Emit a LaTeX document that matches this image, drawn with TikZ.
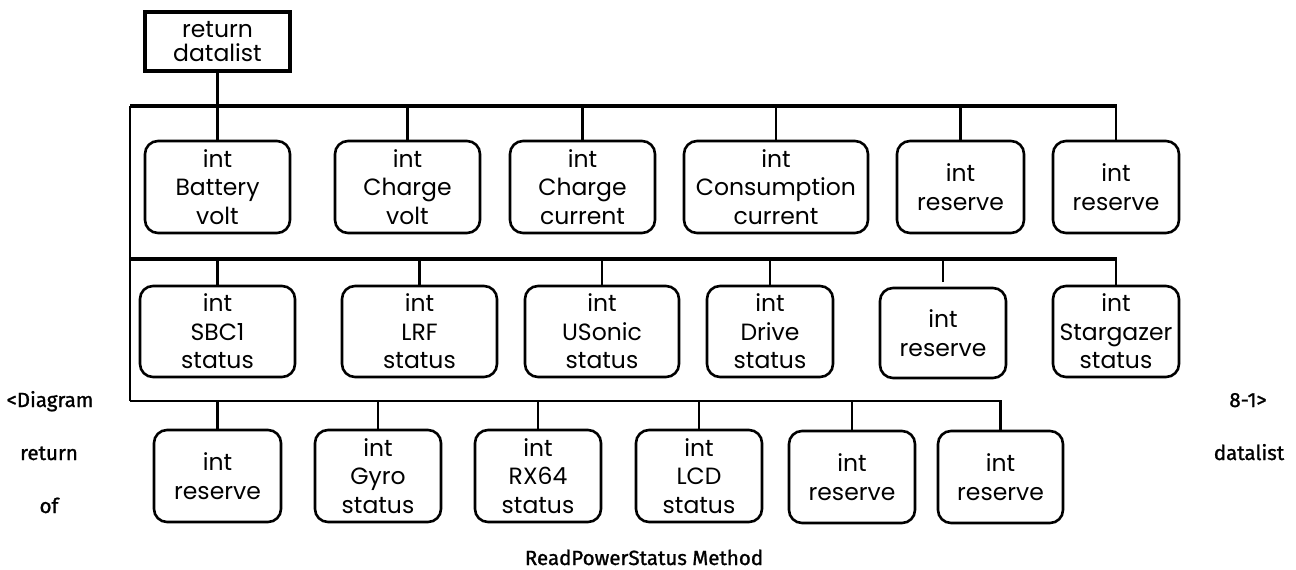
\documentclass[tikz,border=0pt]{standalone}
\usepackage{fontspec}
\newfontfamily\boxfont{Poppins}
\newfontfamily\notefont[FakeBold=1.2]{Fira Sans}
\begin{document}
\begin{tikzpicture}[x=1pt,y=-1pt,
  field/.style={draw, rounded corners=13pt, line width=2.6pt, fill=white,
    align=center, inner sep=0pt, font=\boxfont\fontsize{23.5}{28.5}\selectfont},
  rootbox/.style={draw, line width=4pt, fill=white, align=center, inner sep=0pt,
    minimum width=145pt, minimum height=59pt, font=\boxfont\fontsize{23.5}{27}\selectfont},
  bus/.style={line width=3.2pt},
  thinbus/.style={line width=2.2pt},
  link/.style={line width=2.2pt},
  note/.style={font=\notefont\fontsize{20.5}{24}\selectfont, anchor=base, inner sep=0pt}]
\useasboundingbox (0,0) rectangle (1296,570);

% bus ends
\coordinate (b1L) at (130,106);
\coordinate (b1R) at (1117,106);
\coordinate (b2L) at (130,259);
\coordinate (b2R) at (1117,259);
\coordinate (b3L) at (130,401);
\coordinate (b3R) at (1002,401);

% root
\node[rootbox] (root) at (217.5,41.5) {return\\[-3pt]datalist};

% row 1
\node[field, minimum width=145pt, minimum height=92pt] (bat)  at (217.5,187) {int\\Battery\\volt};
\node[field, minimum width=145pt, minimum height=92pt] (cv)   at (407.5,187) {int\\Charge\\volt};
\node[field, minimum width=145pt, minimum height=92pt] (cc)   at (582.5,187) {int\\Charge\\current};
\node[field, minimum width=184pt, minimum height=92pt] (cons) at (776,187)   {int\\Consumption\\current};
\node[field, minimum width=127pt, minimum height=92pt] (r1a)  at (960.5,187) {int\\reserve};
\node[field, minimum width=126pt, minimum height=92pt] (r1b)  at (1116,187)  {int\\reserve};

% row 2
\node[field, minimum width=155pt, minimum height=91pt] (sbc)   at (217.5,331.5) {int\\SBC1\\status};
\node[field, minimum width=155pt, minimum height=91pt] (lrf)   at (419.5,331.5) {int\\LRF\\status};
\node[field, minimum width=154pt, minimum height=91pt] (uson)  at (602,331.5)   {int\\USonic\\status};
\node[field, minimum width=126pt, minimum height=91pt] (drive) at (770,331.5)   {int\\Drive\\status};
\node[field, minimum width=126pt, minimum height=90pt] (r2)    at (943,333)     {int\\reserve};
\node[field, minimum width=126pt, minimum height=91pt] (star)  at (1116,331.5)  {int\\Stargazer\\status};
\coordinate (r2top) at (943,282);

% row 3
\node[field, minimum width=127pt, minimum height=92pt] (r3a)  at (217.5,476) {int\\reserve};
\node[field, minimum width=126pt, minimum height=92pt] (gyro) at (378,476)   {int\\Gyro\\status};
\node[field, minimum width=126pt, minimum height=92pt] (rx)   at (538,476)   {int\\RX64\\status};
\node[field, minimum width=126pt, minimum height=92pt] (lcd)  at (699,476)   {int\\LCD\\status};
\node[field, minimum width=126pt, minimum height=92pt] (r3b)  at (852,477)   {int\\reserve};
\node[field, minimum width=125pt, minimum height=92pt] (r3c)  at (1000.5,477) {int\\reserve};

% buses
\draw[bus] (b1L) -- (b1R);
\draw[bus] (b2L) -- (b2R);
\draw[thinbus] (b3L) -- (b3R);
\draw[link] (b1L) -- (b3L);

% row 1 links
\draw[link] (root.south) -- (bat.north);
\foreach \n in {cv,cc,cons,r1a,r1b}
  \draw[link] (\n.north) -- (\n.north |- b1L);

% row 2 links
\foreach \n in {sbc,lrf,uson,drive,star}
  \draw[link] (\n.north) -- (\n.north |- b2L);
\draw[link] (r2top) -- (r2top |- b2L);

% row 3 links
\foreach \n in {r3a,gyro,rx,lcd,r3b,r3c}
  \draw[link] (\n.north) -- (\n.north |- b3L);

% caption fragments
\node[note] (c1) at (50,407)   {<Diagram};
\node[note] (c2) at (49,460)   {return};
\node[note] (c3) at (49,513)   {of};
\node[note] (c4) at (1248,407) {8-1>};
\node[note] (c5) at (1249,460) {datalist};
\node[note] (c6) at (644,565)  {ReadPowerStatus Method};
\end{tikzpicture}
\end{document}
